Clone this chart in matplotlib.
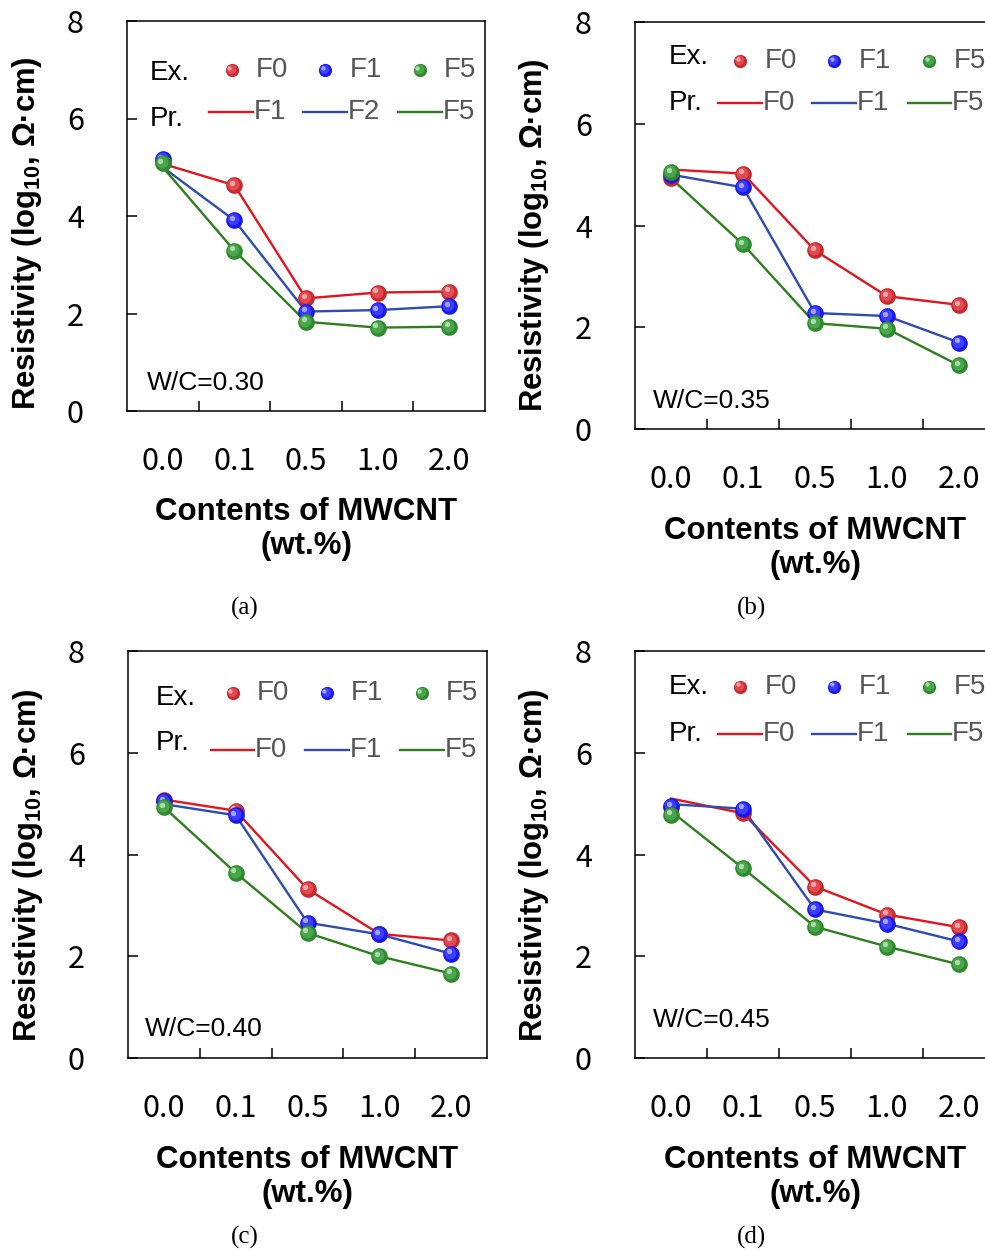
import matplotlib.pyplot as plt
from matplotlib.transforms import offset_copy

plt.rcParams['font.family'] = ['Noto Sans CJK KR', 'DejaVu Sans']
plt.rcParams['mathtext.fontset'] = 'custom'
plt.rcParams['mathtext.rm'] = 'Liberation Sans:bold'
plt.rcParams['mathtext.bf'] = 'Liberation Sans:bold'

# MWCNT contents (categorical axis)
contents = ['0.0', '0.1', '0.5', '1.0', '2.0']
wc_ratios = ['0.30', '0.35', '0.40', '0.45']
panel_tags = ['(a)', '(b)', '(c)', '(d)']
exp_names = ['F0', 'F1', 'F5']
pred_names_a = ['F1', 'F2', 'F5']
pred_names = ['F0', 'F1', 'F5']

# Experimental resistivity, log10(ohm*cm)
exp_030_F0 = [5.10, 4.63, 2.31, 2.43, 2.45]
exp_030_F1 = [5.17, 3.91, 2.04, 2.07, 2.15]
exp_030_F5 = [5.09, 3.29, 1.83, 1.71, 1.73]

exp_035_F0 = [4.93, 5.02, 3.51, 2.61, 2.44]
exp_035_F1 = [5.00, 4.75, 2.28, 2.22, 1.70]
exp_035_F5 = [5.05, 3.63, 2.08, 1.97, 1.25]

exp_040_F0 = [5.07, 4.86, 3.32, 2.44, 2.31]
exp_040_F1 = [5.05, 4.77, 2.66, 2.43, 2.05]
exp_040_F5 = [4.93, 3.64, 2.46, 2.00, 1.66]

exp_045_F0 = [4.93, 4.81, 3.37, 2.82, 2.57]
exp_045_F1 = [4.95, 4.90, 2.92, 2.64, 2.29]
exp_045_F5 = [4.78, 3.73, 2.58, 2.19, 1.84]

# Predicted resistivity, log10(ohm*cm)
pred_030_F0 = [5.07, 4.63, 2.31, 2.43, 2.45]
pred_030_F1 = [5.00, 3.91, 2.04, 2.07, 2.15]
pred_030_F5 = [5.00, 3.29, 1.83, 1.71, 1.73]

pred_035_F0 = [5.10, 5.02, 3.51, 2.61, 2.44]
pred_035_F1 = [5.00, 4.75, 2.28, 2.22, 1.70]
pred_035_F5 = [4.93, 3.63, 2.08, 1.97, 1.25]

pred_040_F0 = [5.08, 4.86, 3.32, 2.44, 2.31]
pred_040_F1 = [4.99, 4.77, 2.66, 2.43, 2.05]
pred_040_F5 = [4.93, 3.64, 2.46, 2.00, 1.66]

pred_045_F0 = [5.10, 4.81, 3.37, 2.82, 2.57]
pred_045_F1 = [4.99, 4.90, 2.92, 2.64, 2.29]
pred_045_F5 = [4.85, 3.73, 2.58, 2.19, 1.84]

line_colors = ['#e3141c', '#2d4bb0', '#2e7f1c']
ball_colors = [('#c8282e', '#e04a50', '#f6b0b0'),
               ('#1818e8', '#3c3cff', '#b0b0ff'),
               ('#2f8a2f', '#4aa64a', '#b8e0b8')]

W, H = 985, 1252
fig = plt.figure(figsize=(W / 100, H / 100), dpi=100)


def add_axes_px(left, top, right, bottom):
    return fig.add_axes([left / W, 1 - bottom / H, (right - left) / W, (bottom - top) / H])


def ball(ax, x, y, colors, ms, z, transform):
    base, mid, hi = colors
    ax.plot(x, y, 'o', ms=ms, mfc=base, mec='none', zorder=z, transform=transform,
            clip_on=False)
    t1 = offset_copy(transform, fig=fig, x=-0.7, y=0.7, units='points')
    ax.plot(x, y, 'o', ms=ms * 0.72, mfc=mid, mec='none', zorder=z + 0.1, transform=t1,
            clip_on=False)
    t2 = offset_copy(transform, fig=fig, x=-1.7, y=1.7, units='points')
    ax.plot(x, y, 'o', ms=ms * 0.32, mfc=hi, mec='none', alpha=0.9, zorder=z + 0.2,
            transform=t2, clip_on=False)


def draw_panel(ax, exp_vals, pred_vals, pnames, wc, lay):
    x = list(range(len(contents)))
    for vals, c in zip(pred_vals, line_colors):
        ax.plot(x, vals, color=c, lw=1.7, zorder=2)
    for i, (vals, c) in enumerate(zip(exp_vals, ball_colors)):
        ball(ax, x, vals, c, 12, 3 + i, ax.transData)

    ax.set_xlim(-0.5, 4.5)
    ax.set_ylim(0, 8)
    ax.set_yticks([0, 2, 4, 6, 8])
    ax.set_xticks(x)
    ax.set_xticklabels(contents)
    ax.set_xticks([0.5, 1.5, 2.5, 3.5], minor=True)
    ax.tick_params(axis='x', which='major', length=0, pad=25, labelsize=22)
    ax.tick_params(axis='x', which='minor', direction='in', length=7, width=1.1)
    ax.tick_params(axis='y', direction='in', length=7, width=1.1, pad=31, labelsize=22)
    for s in ax.spines.values():
        s.set_linewidth(1.1)

    ax.set_ylabel(r'Resistivity (log$_{\mathbf{10}}$, Ω·cm)', family='Liberation Sans',
                  fontweight='bold', fontsize=22.3)
    ax.yaxis.set_label_coords(-0.232, lay['ylab'])
    ax.set_xlabel('Contents of MWCNT\n(wt.%)', family='Liberation Sans',
                  fontweight='bold', fontsize=22.5, linespacing=1.2)
    ax.xaxis.set_label_coords(0.5, lay['xlab'])

    # legend: experimental balls and predicted lines
    tr = ax.transAxes
    ax.text(lay['ex'][0], lay['ex'][1], 'Ex.', transform=tr, family='Liberation Sans',
            fontsize=20, va='center', ha='left')
    ax.text(lay['ex'][0], lay['pr'][1], 'Pr.', transform=tr, family='Liberation Sans',
            fontsize=20, va='center', ha='left')
    mk_x = [0.292, 0.553, 0.818]
    line_x = [0.230, 0.493, 0.757]
    for i in range(3):
        ball(ax, [mk_x[i]], [lay['mk']], ball_colors[i], 9.5, 10 + i, tr)
        ax.text(mk_x[i] + 0.068, lay['mk'], exp_names[i], transform=tr,
                family='Liberation Sans', fontsize=20, color='#555555', va='center')
        ax.plot([line_x[i], line_x[i] + 0.122], [lay['ln'], lay['ln']], transform=tr,
                color=line_colors[i], lw=1.7, clip_on=False)
        ax.text(line_x[i] + 0.124, lay['ln'], pnames[i], transform=tr,
                family='Liberation Sans', fontsize=20, color='#555555', va='center')

    ax.text(lay['wc'][0], lay['wc'][1], 'W/C=' + wc, transform=tr, family='Liberation Sans',
            fontsize=19, va='center', ha='left')


panels = [
    (add_axes_px(127, 21, 485, 411),
     [exp_030_F0, exp_030_F1, exp_030_F5], [pred_030_F0, pred_030_F1, pred_030_F5],
     pred_names_a,
     dict(ylab=0.456, xlab=-0.22, ex=(0.064, 0.866), pr=(0, 0.748), mk=0.874, ln=0.767,
          wc=(0.056, 0.072))),
    (add_axes_px(635, 22, 995, 429),
     [exp_035_F0, exp_035_F1, exp_035_F5], [pred_035_F0, pred_035_F1, pred_035_F5],
     pred_names,
     dict(ylab=0.477, xlab=-0.213, ex=(0.094, 0.914), pr=(0, 0.801), mk=0.904, ln=0.801,
          wc=(0.05, 0.069))),
    (add_axes_px(128, 651, 487, 1058),
     [exp_040_F0, exp_040_F1, exp_040_F5], [pred_040_F0, pred_040_F1, pred_040_F5],
     pred_names,
     dict(ylab=0.474, xlab=-0.213, ex=(0.078, 0.885), pr=(0, 0.774), mk=0.897, ln=0.757,
          wc=(0.047, 0.071))),
    (add_axes_px(635, 651, 995, 1058),
     [exp_045_F0, exp_045_F1, exp_045_F5], [pred_045_F0, pred_045_F1, pred_045_F5],
     pred_names,
     dict(ylab=0.474, xlab=-0.213, ex=(0.094, 0.912), pr=(0, 0.797), mk=0.912, ln=0.797,
          wc=(0.05, 0.093))),
]

for (ax, ev, pv, pn, lay), wc in zip(panels, wc_ratios):
    draw_panel(ax, ev, pv, pn, wc, lay)

# panel tags under each chart
tag_pos = [(245, 608), (752, 608), (245, 1237), (752, 1237)]
for tag, (px, py) in zip(panel_tags, tag_pos):
    fig.text(px / W, 1 - py / H, tag, family='Liberation Serif', fontsize=18,
             ha='center', va='center')

fig.savefig('out.png', dpi=100)
